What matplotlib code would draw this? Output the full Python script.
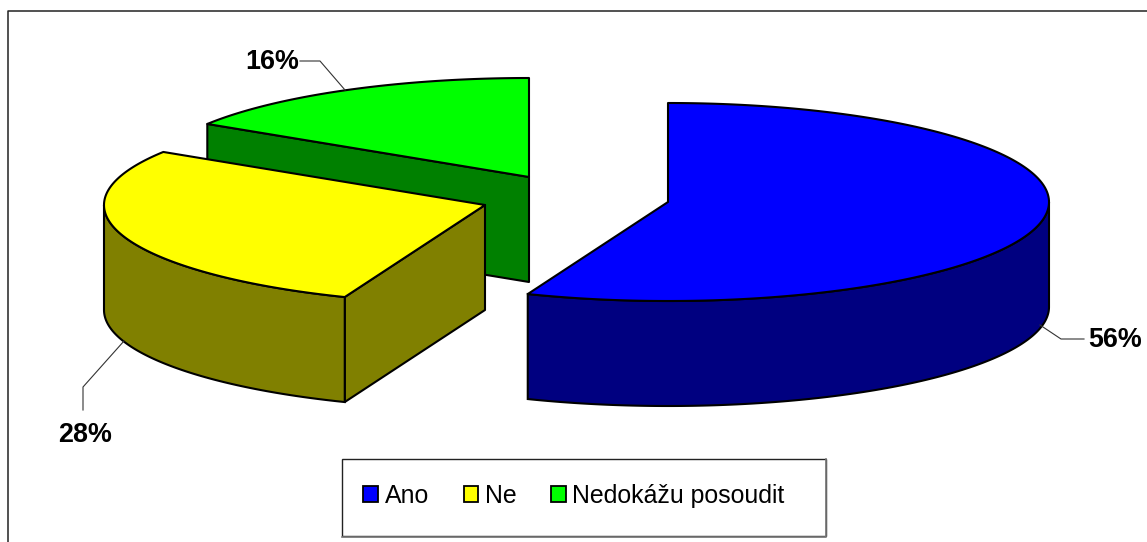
import matplotlib
matplotlib.use('Agg')
import matplotlib.pyplot as plt
from matplotlib.patches import Polygon, Patch, Rectangle
import numpy as np

# data
categories = ['Ano', 'Ne', 'Nedokážu posoudit']
shares = [56, 28, 16]

top_colors = ['#0000FF', '#FFFF00', '#00FF00']
side_colors = ['#000080', '#808000', '#008000']
# stred kazdeho vysunuteho dilu (pixely)
centers = [(668, 202), (485, 205), (529, 177)]
rx, ry, depth = 381, 99, 105
label_pos = [(1115, 340), (85, 435), (272, 62)]
leaders = [[(1040, 325), (1061, 339), (1084, 339)],
           [(124, 341), (83, 387), (83, 410)],
           [(300, 61), (320, 61), (345, 90)]]

plt.rcParams['font.family'] = ['Liberation Sans', 'DejaVu Sans']

fig = plt.figure(figsize=(11.47, 5.42), dpi=100)
ax = fig.add_axes([0, 0, 1, 1])
ax.set_xlim(0, 1147)
ax.set_ylim(542, 0)
ax.axis('off')

# ramecek grafu
ax.plot([8, 8, 1147], [542, 11, 11], color='#222222', lw=1.1)


def arc(c, a0, a1, dy=0):
    t = np.radians(np.linspace(a0, a1, 200))
    return np.column_stack([c[0] + rx * np.cos(t), c[1] + dy - ry * np.sin(t)])


# uhly dilu, po smeru hodinovych rucicek od 12 hodin
angles = [90.0]
for s in shares:
    angles.append(angles[-1] - s / sum(shares) * 360)

# viditelna cast vnejsi steny (predni polovina elipsy)
front_range = [(0, angles[1]), (angles[1], -180), None]

# poradi kresleni: vzadu zelena, pak zluta, pak modra
for i in [2, 1, 0]:
    c = centers[i]
    a0, a1 = angles[i], angles[i + 1]
    lw = 1.5

    # radialni stena na zacatku dilu
    if i != 0:
        start = arc(c, a0, a0)[0]
        wall = [c, start, (start[0], start[1] + depth), (c[0], c[1] + depth)]
        ax.add_patch(Polygon(wall, fc=side_colors[i], ec='black', lw=lw, joinstyle='round'))

    # vnejsi stena
    if front_range[i] is not None:
        hi, lo = front_range[i]
        front = arc(c, hi, lo)
        back = arc(c, lo, hi, depth)
        ax.add_patch(Polygon(np.vstack([front, back]), fc=side_colors[i], ec='black', lw=lw))

    # horni plocha
    top = np.vstack([[c], arc(c, a0, a1)])
    ax.add_patch(Polygon(top, fc=top_colors[i], ec='black', lw=lw, joinstyle='round'))

# popisky s odkazovymi carami
for v, p, l in zip(shares, label_pos, leaders):
    ax.plot([q[0] for q in l], [q[1] for q in l], color='#333333', lw=0.8)
    ax.text(p[0], p[1], f'{v}%', fontsize=19.4, fontweight='bold', ha='center', va='center')

# legenda
ax.add_patch(Rectangle((342, 459), 484, 77, fc='white', ec='#222222', lw=1.0))
ax.plot([826, 826, 342], [459, 536.5, 536.5], color='#777777', lw=1.2)
handles = [Patch(fc=col, ec='black', lw=1.3) for col in top_colors]
leg = ax.legend(handles, categories, ncol=3, loc='center', bbox_to_anchor=(574, 496),
                bbox_transform=ax.transData, fontsize=17.9, frameon=False,
                handlelength=0.58, handleheight=0.58,
                handletextpad=0.27, columnspacing=1.4, borderpad=0, borderaxespad=0)

fig.savefig('out.png', dpi=100)
